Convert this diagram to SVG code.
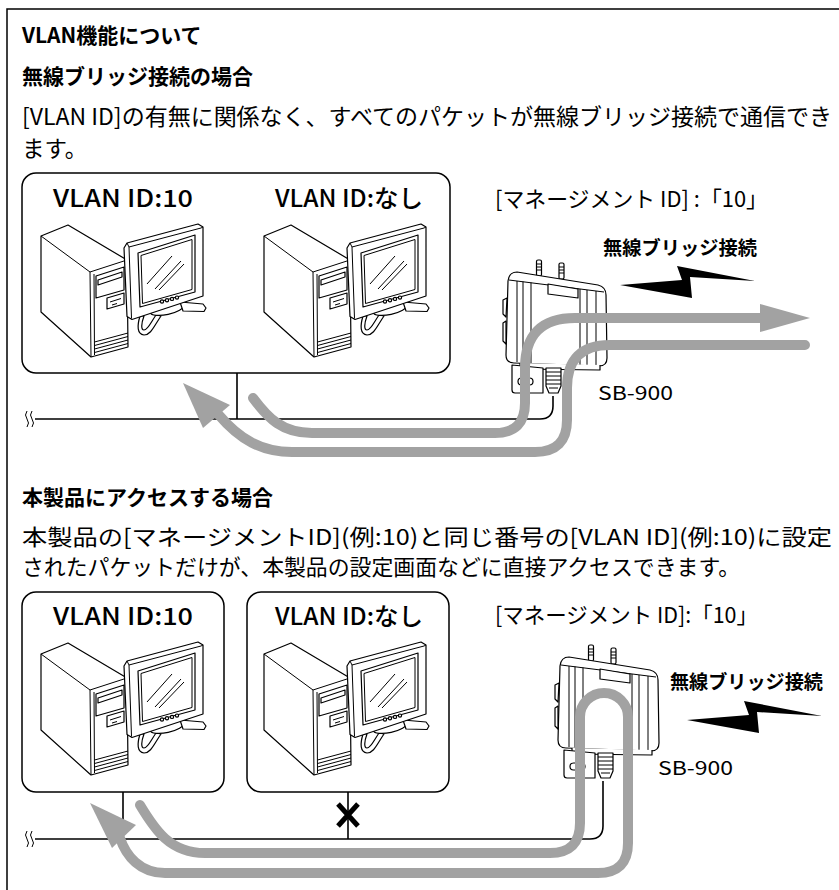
<svg xmlns="http://www.w3.org/2000/svg" xmlns:xlink="http://www.w3.org/1999/xlink" width="839" height="890" viewBox="0 0 839 890">
<style>
.jp{font-family:"Noto Sans CJK JP","Noto Sans",sans-serif;fill:#000}
.b{font-weight:bold}
.m{font-weight:500}
.frame{fill:none;stroke:#000;stroke-width:1.5}
.box{fill:#fff;stroke:#000;stroke-width:1.5}
.net{fill:none;stroke:#000;stroke-width:1.6}
.flow{fill:none;stroke:#a2a2a2;stroke-width:10;stroke-linecap:round;stroke-linejoin:round}
.head{fill:#a2a2a2}
.ic{fill:#fff;stroke:#000;stroke-width:1.2;stroke-linejoin:round}
.ln{fill:none;stroke:#000;stroke-width:1}
.bolt{fill:#000}
</style>
<defs>
<g id="pc">
  <path class="ic" d="M41,236 L68,225 L127,260 L128,347 L91,357 L41,312 Z"/>
  <path class="ln" d="M41,236 L90,272 L127,260 M90,272 L91,357 M94,274 L94.5,355"/>
  <path class="ic" d="M96,276 L124,267 L124,290 L96,298 Z"/>
  <path class="ic" d="M98,280 L122,272 L122,277 L98,285 Z"/>
  <path class="ic" d="M107,298 L124,293 L124,304 L107,309 Z"/>
  <path class="ln" d="M110,302 L121,298.5 M112,305 L117,303.5"/>
  <path class="ln" d="M94.5,342 L128,333 M94.5,345.5 L128,336.5 M94.5,349 L128,340 M94.5,352.5 L128,343.5"/>
  <path class="ic" d="M140,316 C137,326 137,334 144,335 C151,335 154,326 161,316 L156,315 C151,322 148,330 144,330 C141,330 141,324 144,316 Z"/>
  <ellipse class="ic" cx="167" cy="309" rx="17" ry="5.5" transform="rotate(-12 167 309)"/>
  <path class="ic" d="M180,302 L203,304 L206,308 L204,311.5 L183,311 Z"/>
  <path class="ic" d="M124,248 L127,243 L198,224 L203,227 L203,296 L132,319.5 L127,316.5 Z"/>
  <path class="ln" d="M127,243 L129,247 L201,228 L203,227 M129,247 L131.5,318.5"/>
  <path class="ic" d="M138,253 L195,235 L195,292 L140,307 Z"/>
  <path class="ln" d="M141,255.5 L192,239.5 L192,289.5 L142.5,303.5 Z"/>
  <path class="ln" d="M147,284 L172,256 M155,289 L181,261 M159,290 L184,264"/>
  <circle class="ic" cx="162" cy="301.5" r="1.6"/>
  <circle class="ic" cx="167" cy="300.2" r="1.6"/>
  <circle class="ic" cx="172" cy="298.9" r="1.6"/>
  <circle class="ic" cx="177" cy="297.6" r="1.6"/>
</g>
<g id="dev">
  <rect class="ic" x="536.5" y="260" width="5" height="16" rx="1.5"/>
  <rect class="ic" x="559" y="263" width="5" height="16" rx="1.5"/>
  <path class="ln" d="M536.5,264 L541.5,264 M536.5,267 L541.5,267 M536.5,270 L541.5,270 M559,267 L564,267 M559,270 L564,270 M559,273 L564,273"/>
  <path class="ic" d="M508,281 Q509,272 517,272 L598,285 Q606,287 606,295 L607,358 Q607,366 599,366 L514,363 Q506,363 506,355 Z"/>
  <path class="ln" d="M509,280 L604,292"/>
  <path class="ic" d="M507,298 L503,300 L503,314 L506,317 Z M506,321 L503,323 L503,341 L506,344 Z"/>
  <path class="ln" d="M517,281 L517,362 M523,281.5 L523,362.5 M531,282.5 L531,363 M580,289 L580,365 M587,290 L587,365 M596,291 L596,365"/>
  <path class="ic" d="M548,284 L578,289 L578,298 L548,294 Z"/>
  <path class="ic" d="M520,363 L520,369 L600,370 L600,365"/>
  <path class="ic" d="M512,365 L512,390 Q512,393 515,393 L543,393 L543,368 Z"/>
  <rect class="ic" x="518" y="378" width="15" height="7" rx="3.5"/>
  <path class="ic" d="M546,368 L546,386 L549,393 L558,393 L561,386 L561,368 Z"/>
  <path class="ln" d="M546,372 L561,372 M546,376 L561,376 M546,380 L561,380 M546,384 L561,384 M549,388 L558,388"/>
</g>
</defs>

<path id="frame" class="frame" d="M7,890 L7,9 L839,9"/>

<g id="texts-top">
  <text class="jp b" x="22" y="43" font-size="21">VLAN機能について</text>
  <text class="jp b" x="22" y="84" font-size="21">無線ブリッジ接続の場合</text>
  <text class="jp" x="22" y="125" font-size="22.5" textLength="810" lengthAdjust="spacingAndGlyphs">[VLAN ID]の有無に関係なく、すべてのパケットが無線ブリッジ接続で通信でき</text>
  <text class="jp" x="22" y="157" font-size="22.5">ます。</text>
</g>

<g id="box-top">
  <rect class="box" x="22" y="173" width="428" height="200" rx="14"/>
  <text class="jp m" x="53" y="207" font-size="24" textLength="140" lengthAdjust="spacingAndGlyphs">VLAN ID:10</text>
  <text class="jp m" x="275" y="207" font-size="24" textLength="148" lengthAdjust="spacingAndGlyphs">VLAN ID:なし</text>
</g>
<g id="pc-top-10"><use xlink:href="#pc"/></g>
<g id="pc-top-none"><use xlink:href="#pc" transform="translate(223,0)"/></g>

<g id="ap-top">
  <text class="jp" x="495" y="207" font-size="22" textLength="273" lengthAdjust="spacingAndGlyphs">[マネージメント ID] :「10」</text>
  <text class="jp b" x="603" y="255" font-size="19" textLength="154" lengthAdjust="spacingAndGlyphs">無線ブリッジ接続</text>
  <polygon class="bolt" points="620,285 682,280 677,266 755,281 690,277 692,298"/>
  <text class="jp" x="598" y="400" font-size="19" textLength="75" lengthAdjust="spacingAndGlyphs" fill="#222">SB-900</text>
</g>

<g id="texts-bottom">
  <text class="jp b" x="22" y="505" font-size="21">本製品にアクセスする場合</text>
  <text class="jp" x="22" y="545" font-size="22" textLength="810" lengthAdjust="spacingAndGlyphs">本製品の[マネージメントID](例:10)と同じ番号の[VLAN ID](例:10)に設定</text>
  <text class="jp" x="22" y="575" font-size="22" textLength="718" lengthAdjust="spacingAndGlyphs">されたパケットだけが、本製品の設定画面などに直接アクセスできます。</text>
</g>

<g id="box-bottom-10">
  <rect class="box" x="22" y="592" width="202" height="200" rx="14"/>
  <text class="jp m" x="53" y="625" font-size="24" textLength="140" lengthAdjust="spacingAndGlyphs">VLAN ID:10</text>
</g>
<g id="box-bottom-none">
  <rect class="box" x="247" y="592" width="202" height="200" rx="14"/>
  <text class="jp m" x="275" y="625" font-size="24" textLength="148" lengthAdjust="spacingAndGlyphs">VLAN ID:なし</text>
</g>
<g id="pc-bottom-10"><use xlink:href="#pc" transform="translate(0,418)"/></g>
<g id="pc-bottom-none"><use xlink:href="#pc" transform="translate(223,418)"/></g>

<g id="ap-bottom">
  <text class="jp" x="495" y="623" font-size="22" textLength="263" lengthAdjust="spacingAndGlyphs">[マネージメント ID]:「10」</text>
  <text class="jp b" x="670" y="689" font-size="19" textLength="153" lengthAdjust="spacingAndGlyphs">無線ブリッジ接続</text>
  <polygon class="bolt" points="687,720 749,715 744,701 822,716 757,712 759,733"/>
  <text class="jp" x="658" y="775" font-size="19" textLength="75" lengthAdjust="spacingAndGlyphs" fill="#222">SB-900</text>
</g>

<g id="connectors">
  <path class="net" d="M35,419 L540,419 Q553,419 553,406 L553,396 M237,373 L237,419"/>
  <path class="net" d="M35,839 L590,839 Q603,839 603,826 L603,781 M123,792 L123,839 M348,792 L348,839"/>
  <path class="ln" d="M27,411 q-3,4 0,8 q3,4 0,8 M32,411 q-3,4 0,8 q3,4 0,8"/>
  <path class="ln" d="M27,831 q-3,4 0,8 q3,4 0,8 M32,831 q-3,4 0,8 q3,4 0,8"/>
  <use xlink:href="#dev"/>
  <use xlink:href="#dev" transform="translate(52,385)"/>
  <path class="flow" d="M253,398 C268,418 282,433 312,433 L495,433 Q525,433 525,403 L525,368 Q525,318 575,318 L762,318"/>
  <polygon class="head" points="760,304 810,318 760,332"/>
  <path class="flow" d="M805,345 L610,345 Q567,345 567,388 L567,420 Q567,452 535,452 L292,452 C262,452 240,440 218,414"/>
  <polygon class="head" points="183,383 203,428 230,405"/>
  <path class="flow" d="M140,805 C155,830 170,853 205,853 L550,853 Q580,853 580,823 L580,717 A24,24 0 0 1 628,717 L628,843 Q628,873 598,873 L165,873 C140,873 126,856 120,838"/>
  <polygon class="head" points="90,803 112,848 136,825"/>
  <path d="M338,804 L358,826 M358,804 L338,826" stroke="#000" stroke-width="5" fill="none"/>
</g>
</svg>
